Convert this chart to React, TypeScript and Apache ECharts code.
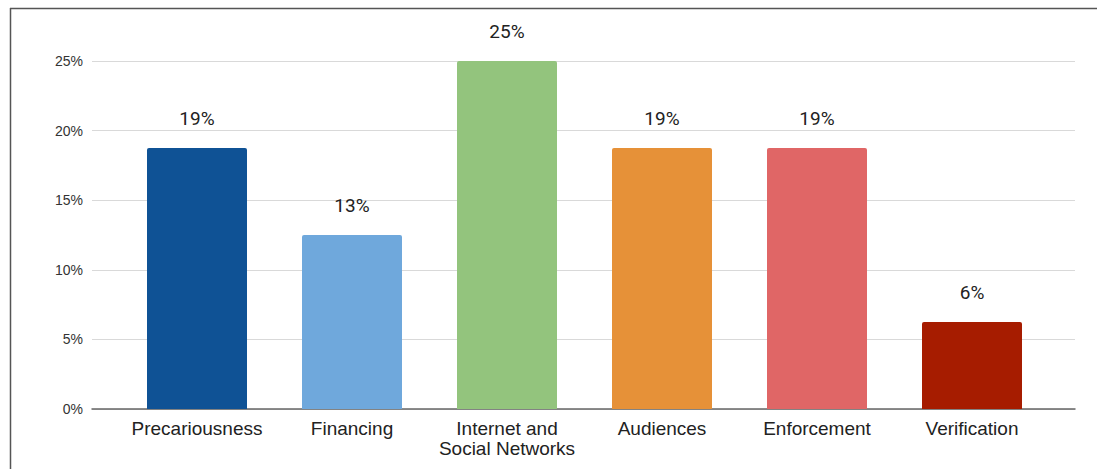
import React, { useEffect, useRef } from "react";
import * as echarts from "echarts";

const categories = [
  "Precariousness",
  "Financing",
  "Internet and\nSocial Networks",
  "Audiences",
  "Enforcement",
  "Verification",
];
const values = [18.75, 12.5, 25, 18.75, 18.75, 6.25];
const barColors = ["#0f5295", "#6fa8dc", "#93c47d", "#e69138", "#e06666", "#a61c00"];
const yTicks = { min: 0, max: 25, interval: 5 };

export default function App() {
  const ref = useRef<HTMLDivElement>(null);
  useEffect(() => {
    if (!ref.current) return;
    const chart = echarts.init(ref.current, undefined, { renderer: "svg" });
    chart.setOption({
      animation: false,
      backgroundColor: "#ffffff",
      graphic: [
        { type: "line", shape: { x1: 10, y1: 8.5, x2: 1097, y2: 8.5 }, style: { stroke: "#555", lineWidth: 1.5 } },
        { type: "line", shape: { x1: 10.5, y1: 8, x2: 10.5, y2: 469 }, style: { stroke: "#555", lineWidth: 1.5 } },
      ],
      grid: [
        { left: 92, right: 22, top: 61, bottom: 60 },
        { left: 119.5, right: 47.5, top: 61, bottom: 60 },
      ],
      xAxis: [
        {
          gridIndex: 0,
          type: "category",
          data: [""],
          axisLine: { show: true, lineStyle: { color: "#666", width: 1.5 } },
          axisTick: { show: false },
          axisLabel: { show: false },
        },
        {
          gridIndex: 1,
          type: "category",
          data: categories,
          axisLine: { show: false },
          axisTick: { show: false },
          axisLabel: {
            margin: 9,
            fontFamily: "Liberation Sans, Arial, sans-serif",
            fontSize: 19,
            lineHeight: 20,
            color: "#222",
            interval: 0,
          },
        },
      ],
      yAxis: [
        {
          gridIndex: 0,
          type: "value",
          min: yTicks.min,
          max: yTicks.max,
          interval: yTicks.interval,
          axisLine: { show: false },
          axisTick: { show: false },
          axisLabel: {
            formatter: "{value}%",
            margin: 9,
            fontFamily: "Liberation Sans, Arial, sans-serif",
            fontSize: 14,
            color: "#333",
          },
          splitLine: { lineStyle: { color: "#d9d9d9", width: 1 } },
        },
        {
          gridIndex: 1,
          type: "value",
          min: yTicks.min,
          max: yTicks.max,
          interval: yTicks.interval,
          show: false,
          splitLine: { show: false },
        },
      ],
      series: [
        {
          type: "bar",
          xAxisIndex: 1,
          yAxisIndex: 1,
          barWidth: 100,
          data: values.map((v, i) => ({
            value: v,
            itemStyle: { color: barColors[i], borderRadius: [2, 2, 0, 0] },
          })),
          label: {
            show: true,
            position: "top",
            distance: 20,
            fontFamily: "Roboto, sans-serif",
            fontSize: 19,
            color: "#222",
            formatter: (p: any) => Math.round(p.value) + "%",
          },
          z: 3,
        },
      ],
    });
    return () => chart.dispose();
  }, []);
  return (
    <div
      ref={ref}
      style={{ position: "fixed", left: 0, top: 0, width: 1097, height: 469 }}
    />
  );
}
